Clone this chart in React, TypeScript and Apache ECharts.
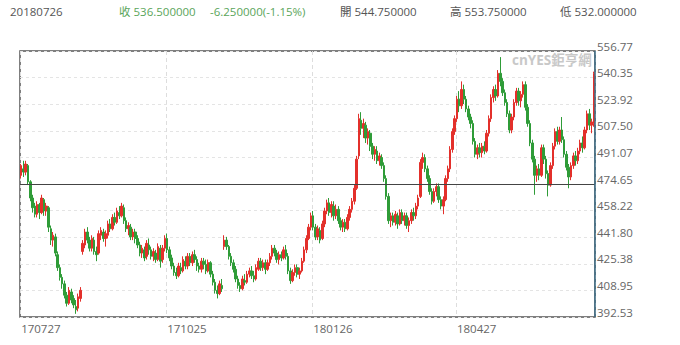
import React, { useEffect, useRef } from 'react';
import * as echarts from 'echarts';

// [open, close, low, high]
const candles: number[][] = [
  [480, 486, 478, 487], [484, 482, 479, 489], [482, 487, 480, 489], [486, 476, 474, 487], [476, 466, 464, 477],
  [466, 460, 457, 468], [461, 456, 454, 463], [456, 462, 454, 464], [462, 457, 453, 463], [457, 466, 456, 468],
  [465, 458, 455, 466], [458, 461, 455, 463], [460, 448, 445, 461], [447, 440, 437, 449], [440, 443, 436, 445],
  [442, 432, 430, 444], [431, 423, 421, 433], [423, 417, 415, 425], [417, 413, 410, 419], [413, 406, 404, 415],
  [406, 401, 399, 408], [401, 409, 400, 411], [408, 403, 401, 410], [404, 400, 398, 406], [399, 397, 394.5, 403],
  [398, 405, 396, 407], [404, 409, 402, 411], [433, 438, 431, 440], [437, 445, 435, 447], [445, 440, 438, 448],
  [440, 435, 433, 442], [435, 441, 433, 443], [440, 433, 431, 442], [433, 431, 427, 436], [432, 444, 431, 446],
  [443, 446, 440, 448], [445, 441, 439, 447], [441, 444, 436, 446], [443, 450, 441, 452], [450, 447, 445, 453],
  [447, 454, 446, 456], [454, 451, 449, 457], [451, 458, 450, 460], [457, 455, 453, 461], [455, 461, 454, 463],
  [460, 452, 450, 462], [452, 447, 445, 454], [447, 449, 443, 451], [448, 442, 440, 450], [442, 445, 440, 447],
  [445, 441, 438, 447], [441, 437, 435, 443], [437, 432, 430, 439], [432, 435, 429, 437], [434, 429, 427, 436],
  [430, 438, 428, 440], [437, 434, 431, 441], [434, 430, 428, 436], [430, 433, 427, 435], [432, 428, 426, 434],
  [428, 436, 427, 438], [435, 427, 423, 437], [428, 435, 426, 437], [435, 441, 433, 443], [441, 434, 432, 444],
  [434, 429, 427, 436], [429, 424, 422, 431], [424, 420, 418, 426], [420, 418, 416, 423], [418, 424, 417, 426],
  [423, 421, 419, 426], [421, 428, 420, 430], [427, 424, 422, 430], [424, 430, 422, 432], [430, 426, 424, 432],
  [426, 431, 424, 433], [431, 428, 426, 434], [428, 424, 421, 430], [424, 422, 420, 426], [422, 427, 420, 429],
  [427, 425, 422, 429], [425, 421, 419, 428], [421, 426, 420, 428], [426, 419, 417, 427], [419, 414, 412, 421],
  [414, 409, 407, 416], [409, 407, 404, 412], [407, 413, 406, 415], [412, 410, 408, 416], [436, 440, 434, 443],
  [440, 436, 434, 442], [436, 430, 428, 437], [430, 426, 424, 432], [426, 422, 420, 428], [422, 416, 414, 424],
  [416, 412, 410, 418], [412, 410, 408, 414], [410, 416, 409, 418], [415, 414, 412, 419], [414, 419, 413, 421],
  [419, 421, 417, 423], [421, 418, 416, 424], [418, 416, 414, 421], [416, 423, 415, 425], [422, 427, 421, 429],
  [427, 423, 421, 429], [423, 426, 421, 428], [426, 422, 419, 428], [422, 426, 421, 428], [426, 430, 424, 432],
  [430, 435, 428, 437], [435, 432, 430, 437], [432, 428, 426, 434], [428, 431, 425, 433], [431, 429, 427, 433],
  [429, 434, 428, 436], [434, 430, 428, 437], [430, 421, 419, 432], [421, 415, 413, 423], [415, 420, 414, 422],
  [420, 423, 418, 425], [423, 419, 417, 425], [419, 421, 416, 423], [421, 427, 420, 429], [427, 434, 426, 436],
  [434, 441, 432, 443], [441, 448, 440, 450], [448, 455, 446, 457], [455, 448, 446, 458], [448, 442, 440, 450],
  [442, 447, 440, 449], [446, 440, 438, 448], [441, 450, 440, 452], [450, 458, 448, 460], [458, 463, 456, 465],
  [463, 457, 455, 466], [457, 462, 454, 464], [461, 455, 452, 464], [455, 459, 453, 462], [459, 452, 450, 461],
  [452, 448, 446, 454], [448, 451, 445, 453], [451, 447, 445, 453], [447, 454, 446, 456], [454, 459, 452, 461],
  [459, 464, 457, 466], [464, 472, 462, 474], [472, 490, 471, 492], [492, 515, 490, 518], [514, 509, 505, 519],
  [509, 512, 503, 515], [511, 503, 500, 513], [503, 507, 499, 509], [506, 498, 495, 508], [498, 493, 490, 500],
  [493, 496, 489, 498], [495, 489, 487, 498], [489, 492, 486, 494], [491, 486, 484, 493], [486, 478, 476, 488],
  [478, 467, 465, 480], [467, 452, 450, 469], [452, 455, 448, 457], [455, 451, 449, 457], [451, 456, 449, 458],
  [455, 450, 447, 457], [450, 457, 449, 459], [457, 452, 450, 459], [452, 455, 449, 457], [455, 449, 447, 457],
  [449, 452, 445, 454], [452, 457, 450, 459], [457, 455, 452, 460], [455, 461, 453, 463], [461, 466, 459, 468],
  [467, 488, 466, 490], [488, 491, 484, 494], [491, 484, 482, 493], [484, 478, 476, 486], [478, 470, 468, 480],
  [470, 464, 462, 472], [464, 470, 463, 472], [470, 473, 467, 475], [473, 465, 463, 475], [465, 461, 459, 467],
  [461, 465, 456, 467], [465, 478, 464, 480], [478, 484, 476, 486], [484, 496, 482, 498], [496, 507, 494, 509],
  [507, 515, 505, 517], [515, 527, 513, 529], [527, 523, 519, 532], [523, 533, 521, 538], [533, 527, 524, 536],
  [527, 521, 519, 529], [521, 516, 514, 523], [516, 512, 509, 518], [512, 501, 499, 514], [501, 493, 491, 503],
  [493, 497, 490, 499], [497, 494, 491, 500], [494, 498, 491, 500], [498, 495, 493, 501], [495, 506, 494, 508],
  [506, 515, 504, 517], [515, 528, 513, 530], [528, 533, 525, 535], [533, 529, 526, 536], [529, 543, 528, 545],
  [543, 538, 535, 553], [538, 531, 529, 540], [531, 525, 523, 533], [525, 518, 516, 527], [518, 508, 506, 520],
  [508, 516, 506, 518], [516, 525, 514, 527], [525, 532, 523, 534], [532, 526, 523, 534], [526, 530, 522, 532],
  [530, 536, 528, 538], [536, 522, 520, 538], [522, 512, 510, 524], [512, 500, 498, 514], [500, 490, 488, 502],
  [490, 480, 468, 492], [480, 484, 476, 486], [484, 480, 477, 487], [480, 497, 479, 499], [497, 490, 487, 499],
  [490, 481, 478, 492], [481, 474, 467, 483], [474, 486, 473, 488], [486, 498, 484, 500], [498, 507, 496, 509],
  [507, 501, 499, 510], [501, 508, 499, 510], [508, 502, 500, 516], [502, 493, 491, 504], [493, 485, 483, 495],
  [485, 479, 472, 487], [479, 486, 477, 488], [486, 492, 484, 494], [492, 489, 486, 495], [489, 495, 487, 497],
  [495, 500, 493, 502], [500, 497, 494, 504], [497, 508, 496, 510], [508, 518, 506, 520], [518, 511, 508, 521],
  [511, 513, 506, 515], [512, 542.75, 510, 544],
];

const xTickIndex = [0, 64, 128, 191];
const xTickLabels = ['170727', '171025', '180126', '180427'];
const yTickLabels = ['392.53', '408.95', '425.38', '441.80', '458.22', '474.65', '491.07', '507.50', '523.92', '540.35', '556.77'];
const yMin = 392.53;
const yMax = 556.77;
const refPrice = 474.65;

const headerDate = '20180726';
const headerClose = '收 536.500000';
const headerChange = '-6.250000(-1.15%)';
const headerOpen = '開 544.750000';
const headerHigh = '高 553.750000';
const headerLow = '低 532.000000';

const FONT = '"Open Sans", "Noto Sans CJK TC", sans-serif';

export default function App() {
  const ref = useRef<HTMLDivElement>(null);
  useEffect(() => {
    if (!ref.current) return;
    const chart = echarts.init(ref.current, undefined, { renderer: 'svg' });
    const cats = candles.map((_, i) => String(i));
    const showIdx = (i: number) => xTickIndex.includes(i);
    const up = '#e3302b';
    const down = '#2f9c38';
    chart.setOption({
      animation: false,
      backgroundColor: '#ffffff',
      grid: {
        left: 20, top: 51, right: 85, bottom: 28,
        show: true, borderColor: '#555555', borderWidth: 1.5, backgroundColor: 'transparent',
      },
      xAxis: {
        type: 'category',
        data: cats,
        boundaryGap: true,
        axisLine: { show: false },
        axisTick: { show: false },
        axisLabel: {
          interval: (i: number) => showIdx(i),
          formatter: (_v: string, i: number) => xTickLabels[xTickIndex.indexOf(i)] ?? '',
          align: 'left',
          color: '#666666',
          fontSize: 11.5,
          fontFamily: FONT,
          margin: 6,
        },
        splitLine: {
          show: true,
          interval: (i: number) => showIdx(i),
          lineStyle: { color: '#dddddd', type: [4, 3], width: 1 },
        },
      },
      yAxis: [
        {
          type: 'value',
          min: yMin,
          max: yMax,
          position: 'right',
          show: false,
          splitLine: { show: false },
        },
        {
          type: 'category',
          data: yTickLabels,
          boundaryGap: false,
          position: 'right',
          axisLine: { show: false },
          axisTick: { show: false },
          axisLabel: {
            color: '#666666',
            fontSize: 11.5,
            fontFamily: FONT,
            margin: 2,
            verticalAlign: 'bottom',
            lineHeight: 10,
          },
          splitLine: { show: true, lineStyle: { color: '#e4e4e4', type: [3, 3], width: 1 } },
        },
      ],
      series: [
        {
          type: 'candlestick',
          yAxisIndex: 0,
          data: candles,
          barWidth: '90%',
          itemStyle: { color: up, color0: down, borderColor: up, borderColor0: down, borderWidth: 1 },
          markLine: {
            silent: true,
            symbol: 'none',
            label: { show: false },
            lineStyle: { color: '#444444', width: 1, type: 'solid' },
            data: [{ yAxis: refPrice }],
          },
        },
      ],
      graphic: [
        { type: 'line', shape: { x1: 595, y1: 51, x2: 595, y2: 317 }, style: { stroke: '#3f6f88', lineWidth: 1.5 }, z: 100 },
        { type: 'text', left: 512, top: 53, style: { text: 'cnYES鉅亨網', fill: '#c8c8c8', font: `bold 13.5px ${FONT}` }, z: 50 },
        { type: 'text', left: 10, top: 6, style: { text: headerDate, fill: '#555555', font: `11.5px ${FONT}` } },
        { type: 'text', left: 119, top: 6, style: { text: headerClose, fill: '#5aa55a', font: `11.5px ${FONT}` } },
        { type: 'text', left: 210, top: 6, style: { text: headerChange, fill: '#5aa55a', font: `11.5px ${FONT}` } },
        { type: 'text', left: 340, top: 6, style: { text: headerOpen, fill: '#555555', font: `11.5px ${FONT}` } },
        { type: 'text', left: 450, top: 6, style: { text: headerHigh, fill: '#555555', font: `11.5px ${FONT}` } },
        { type: 'text', left: 560, top: 6, style: { text: headerLow, fill: '#555555', font: `11.5px ${FONT}` } },
      ],
    });
    return () => chart.dispose();
  }, []);
  return <div ref={ref} style={{ position: 'fixed', left: 0, top: 0, width: 680, height: 345, background: '#fff' }} />;
}
